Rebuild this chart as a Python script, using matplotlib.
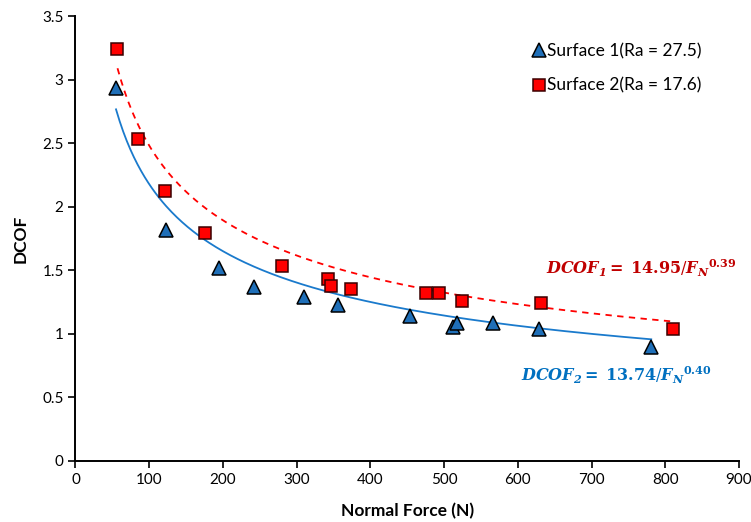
import numpy as np
import matplotlib.pyplot as plt

# dados medidos: forca normal (N) e coeficiente de atrito dinamico
force_s1 = [55, 123, 195, 242, 310, 356, 454, 512, 518, 567, 629, 781]
dcof_s1 = [2.93, 1.82, 1.52, 1.37, 1.29, 1.23, 1.14, 1.05, 1.085, 1.085, 1.04, 0.90]

force_s2 = [57, 85, 122, 176, 280, 342, 346, 374, 475, 493, 524, 632, 811]
dcof_s2 = [3.24, 2.53, 2.12, 1.79, 1.53, 1.43, 1.38, 1.35, 1.32, 1.32, 1.26, 1.24, 1.04]

# ajustes de potencia DCOF = a / F^b
fit_s1 = (13.74, 0.40)
fit_s2 = (14.95, 0.39)

labels = ['Surface 1(Ra = 27.5)', 'Surface 2(Ra = 17.6)']
x_ticks = np.arange(0, 901, 100)
y_ticks = [0, 0.5, 1, 1.5, 2, 2.5, 3, 3.5]

plt.rcParams['font.family'] = ['Lato', 'DejaVu Sans']
plt.rcParams['mathtext.fontset'] = 'dejavuserif'

fig = plt.figure(figsize=(7.51, 5.22), dpi=100)
ax = fig.add_axes([0.1005, 0.1169, 0.8835, 0.8524])

blue = '#1f6fb8'
red = '#ff0000'

# curvas de tendencia
xs1 = np.linspace(min(force_s1), max(force_s1), 300)
ax.plot(xs1, fit_s1[0] / xs1 ** fit_s1[1], color='#1a7acc', lw=1.3, zorder=2)
xs2 = np.linspace(min(force_s2), max(force_s2), 300)
ax.plot(xs2, fit_s2[0] / xs2 ** fit_s2[1], color=red, lw=1.3,
        ls=(0, (3.5, 3)), zorder=2)

# pontos
ax.plot(force_s1, dcof_s1, ls='none', marker='^', ms=10.5, mfc=blue,
        mec='black', mew=1.1, label=labels[0], zorder=3)
ax.plot(force_s2, dcof_s2, ls='none', marker='s', ms=8.5, mfc=red,
        mec='#3a0000', mew=1.1, label=labels[1], zorder=3)

ax.set_xlim(0, 900)
ax.set_ylim(0, 3.5)
ax.set_xticks(x_ticks)
ax.set_yticks(y_ticks)
ax.set_yticklabels([f'{v:g}' for v in y_ticks])

for s in ['top', 'right']:
    ax.spines[s].set_visible(False)
for s in ['left', 'bottom']:
    ax.spines[s].set_linewidth(1.4)
ax.tick_params(direction='out', length=5, width=1.2, labelsize=11)

ax.set_xlabel('Normal Force (N)', fontsize=12.5, fontweight='bold', labelpad=12)
ax.set_ylabel('DCOF', fontsize=12.5, fontweight='bold', labelpad=10)

ax.legend(loc='upper left', bbox_to_anchor=(0.672, 0.958), frameon=False,
          fontsize=12.5, borderpad=0, handletextpad=0.0, labelspacing=1.05,
          handlelength=1.0)

# equacoes dos ajustes
ax.text(0.709, 0.42, r'$\mathbfit{DCOF_1 =}$ $\mathbf{14.95}/\mathbfit{F_N}^{\mathbf{0.39}}$',
        transform=ax.transAxes, color='#c00000', fontsize=11.5)
ax.text(0.672, 0.18, r'$\mathbfit{DCOF_2 =}$ $\mathbf{13.74}/\mathbfit{F_N}^{\mathbf{0.40}}$',
        transform=ax.transAxes, color='#0070c0', fontsize=11.5)

fig.savefig('out.png', dpi=100)
